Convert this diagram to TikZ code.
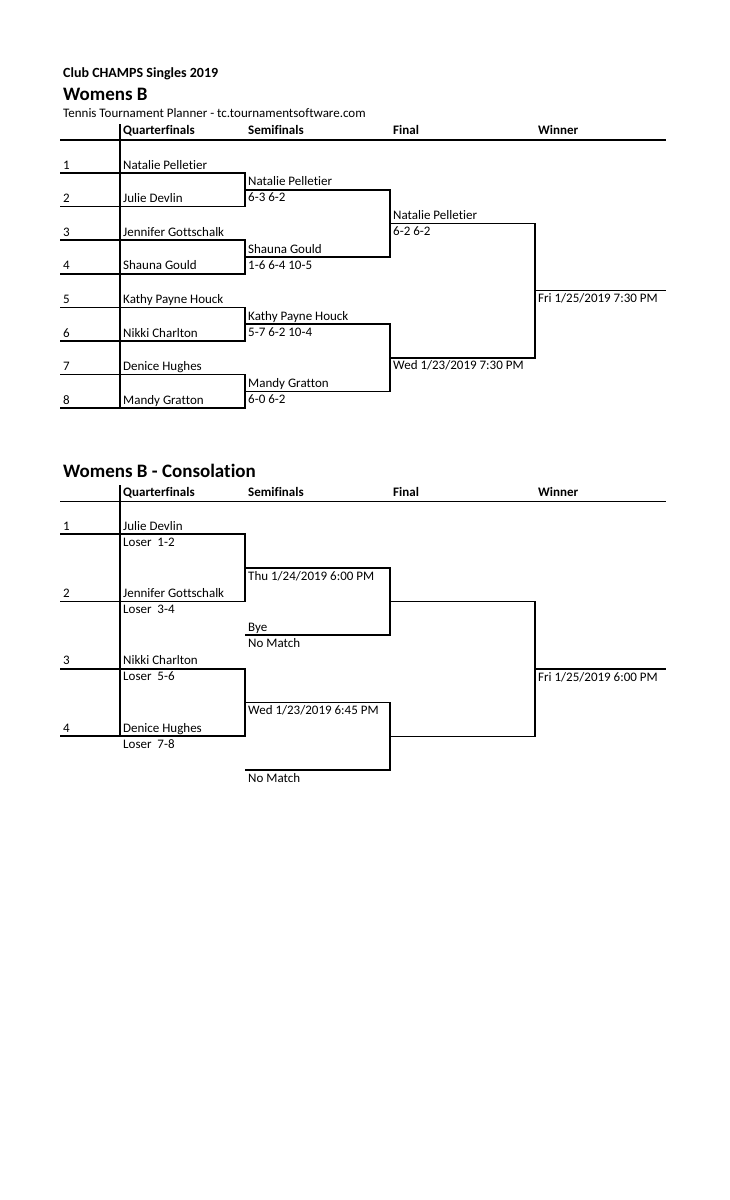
\documentclass[tikz,border=0pt]{standalone}
\usepackage{fontspec}
\setmainfont{Carlito}[Ligatures={NoCommon}]
\begin{document}
\begin{tikzpicture}[x=1pt,y=-1pt,
  txt/.style={anchor=base west,inner sep=0pt,font=\fontsize{13}{15}\selectfont},
  hdr/.style={txt,font=\fontsize{13}{15}\selectfont\bfseries},
  clb/.style={txt,font=\fontsize{14}{16}\selectfont\bfseries},
  ttl/.style={anchor=base west,inner sep=0pt,font=\fontsize{19}{22}\selectfont\bfseries},
  brk/.style={line width=1.6pt},
  rule/.style={line width=1.3pt}]
\useasboundingbox[fill=white] (0,0) rectangle (729,1200);
% ---------- titles ----------
\node[clb] (club) at (63,77) {Club CHAMPS Singles 2019};
\node[ttl] (wb) at (63,100.5) {Womens B};
\node[txt] (ttp) at (63,117) {Tennis Tournament Planner - tc.tournamentsoftware.com};
% ---------- main header ----------
\node[hdr] (hq) at (123,134.5) {Quarterfinals};
\node[hdr] (hs) at (248,134.5) {Semifinals};
\node[hdr] (hf) at (393,134.5) {Final};
\node[hdr] (hw) at (538,134.5) {Winner};
\coordinate (hl) at (60,140); \coordinate (hr) at (666,140);
\draw[rule] (hl) -- (hr);
\coordinate (vt) at (120,124); \coordinate (vb) at (120,408.2);
\draw[rule] (vt) -- (vb);
% ---------- main rows ----------
\foreach \n/\nm/\y in {1/Natalie Pelletier/173, 2/Julie Devlin/206.6, 3/Jennifer Gottschalk/240.2, 4/Shauna Gould/273.8, 5/Kathy Payne Houck/307.4, 6/Nikki Charlton/341, 7/Denice Hughes/374.6, 8/Mandy Gratton/408.2}{
  \node[txt] (num\n) at (63,\y-4) {\n};
  \node[txt] (qf\n) at (123,\y-4) {\nm};
}
% QF brackets
\coordinate (a1) at (60,173);   \coordinate (b1) at (245,173);
\coordinate (a2) at (60,206.6); \coordinate (b2) at (245,206.6);
\coordinate (a3) at (60,240.2); \coordinate (b3) at (245,240.2);
\coordinate (a4) at (60,273.8); \coordinate (b4) at (245,273.8);
\coordinate (a5) at (60,307.4); \coordinate (b5) at (245,307.4);
\coordinate (a6) at (60,341);   \coordinate (b6) at (245,341);
\coordinate (a7) at (60,374.6); \coordinate (b7) at (245,374.6);
\coordinate (a8) at (60,408.2); \coordinate (b8) at (245,408.2);
\draw[brk] (a1) -- (b1) -- (b2) -- (a2);
\draw[brk] (a3) -- (b3) -- (b4) -- (a4);
\draw[brk] (a5) -- (b5) -- (b6) -- (a6);
\draw[brk] (a7) -- (b7) -- (b8) -- (a8);
% SF
\coordinate (s1) at (245,189.8); \coordinate (t1) at (390,189.8);
\coordinate (s2) at (245,257);   \coordinate (t2) at (390,257);
\coordinate (s3) at (245,324.2); \coordinate (t3) at (390,324.2);
\coordinate (s4) at (245,391.4); \coordinate (t4) at (390,391.4);
\draw[brk] (s1) -- (t1) -- (t2) -- (s2);
\draw[brk] (s3) -- (t3) -- (t4) -- (s4);
\node[txt] (sfn1) at (248,185.8) {Natalie Pelletier};
\node[txt] (sfs1) at (248,201.8) {6-3 6-2};
\node[txt] (sfn2) at (248,253) {Shauna Gould};
\node[txt] (sfs2) at (248,269) {1-6 6-4 10-5};
\node[txt] (sfn3) at (248,320.2) {Kathy Payne Houck};
\node[txt] (sfs3) at (248,336.2) {5-7 6-2 10-4};
\node[txt] (sfn4) at (248,387.4) {Mandy Gratton};
\node[txt] (sfs4) at (248,403.4) {6-0 6-2};
% Final
\coordinate (f1) at (390,223.4); \coordinate (g1) at (535,223.4);
\coordinate (f2) at (390,357.8); \coordinate (g2) at (535,357.8);
\draw[brk] (f1) -- (g1) -- (g2) -- (f2);
\node[txt] (fn1) at (393,219.4) {Natalie Pelletier};
\node[txt] (fs1) at (393,235.4) {6-2 6-2};
\node[txt] (fd2) at (393,369.8) {Wed 1/23/2019 7:30 PM};
% Winner
\coordinate (w1) at (535,290.6); \coordinate (w2) at (666,290.6);
\draw[brk] (w1) -- (w2);
\node[txt] (wd) at (538,302.6) {Fri 1/25/2019 7:30 PM};
% ---------- consolation ----------
\node[ttl] (wbc) at (63,477.5) {Womens B - Consolation};
\node[hdr] (chq) at (123,496) {Quarterfinals};
\node[hdr] (chs) at (248,496) {Semifinals};
\node[hdr] (chf) at (393,496) {Final};
\node[hdr] (chw) at (538,496) {Winner};
\coordinate (chl) at (60,501.5); \coordinate (chr) at (666,501.5);
\draw[rule] (chl) -- (chr);
\coordinate (cvt) at (120,485); \coordinate (cvb) at (120,736.4);
\draw[rule] (cvt) -- (cvb);
\foreach \n/\nm/\ls/\y in {1/Julie Devlin/1-2/534.2, 2/Jennifer Gottschalk/3-4/601.4, 3/Nikki Charlton/5-6/668.8, 4/Denice Hughes/7-8/736.2}{
  \node[txt] (cnum\n) at (63,\y-4) {\n};
  \node[txt] (cqf\n) at (123,\y-4) {\nm};
  \node[txt] (clos\n) at (123,\y+12) {Loser\ \ \ls};
}
\coordinate (ca1) at (60,534.2); \coordinate (cb1) at (245,534.2);
\coordinate (ca2) at (60,601.4); \coordinate (cb2) at (245,601.4);
\coordinate (ca3) at (60,668.8); \coordinate (cb3) at (245,668.8);
\coordinate (ca4) at (60,736.2); \coordinate (cb4) at (245,736.2);
\draw[brk] (ca1) -- (cb1) -- (cb2) -- (ca2);
\draw[brk] (ca3) -- (cb3) -- (cb4) -- (ca4);
\coordinate (cs1) at (245,568);   \coordinate (ct1) at (390,568);
\coordinate (cs2) at (245,635);   \coordinate (ct2) at (390,635);
\coordinate (cs3) at (245,702.6); \coordinate (ct3) at (390,702.6);
\coordinate (cs4) at (245,770);   \coordinate (ct4) at (390,770);
\draw[brk] (cs1) -- (ct1) -- (ct2) -- (cs2);
\draw[brk] (cs3) -- (ct3) -- (ct4) -- (cs4);
\node[txt] (csd1) at (248,580) {Thu 1/24/2019 6:00 PM};
\node[txt] (csn2) at (248,631) {Bye};
\node[txt] (csm2) at (248,647) {No Match};
\node[txt] (csd3) at (248,714.6) {Wed 1/23/2019 6:45 PM};
\node[txt] (csm4) at (248,782) {No Match};
\coordinate (cf1) at (390,601.5); \coordinate (cg1) at (535,601.5);
\coordinate (cf2) at (390,736.3); \coordinate (cg2) at (535,736.3);
\draw[brk] (cf1) -- (cg1) -- (cg2) -- (cf2);
\coordinate (cw1) at (535,669); \coordinate (cw2) at (666,669);
\draw[brk] (cw1) -- (cw2);
\node[txt] (cwd) at (538,681) {Fri 1/25/2019 6:00 PM};
\end{tikzpicture}
\end{document}
